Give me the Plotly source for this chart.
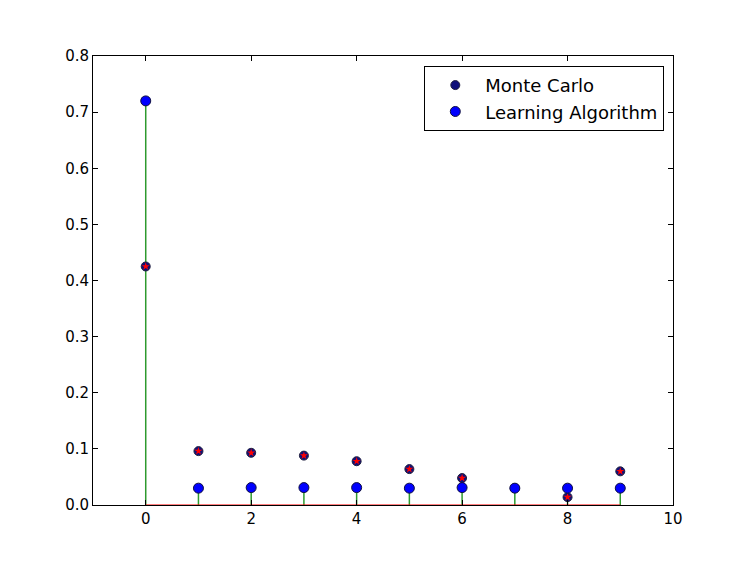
import plotly.graph_objects as go

positions = [0, 1, 2, 3, 4, 5, 6, 7, 8, 9]
monte_carlo = [0.425, 0.096, 0.093, 0.088, 0.078, 0.064, 0.048, 0.030, 0.014, 0.060]
learning_algo = [0.720, 0.030, 0.031, 0.031, 0.031, 0.030, 0.031, 0.030, 0.030, 0.030]


def stem_xy(xs, ys):
    sx, sy = [], []
    for x, y in zip(xs, ys):
        sx += [x, x, None]
        sy += [0, y, None]
    return sx, sy


fig = go.Figure()

# stems of the learning algorithm (green)
sx, sy = stem_xy(positions, learning_algo)
fig.add_trace(go.Scatter(x=sx, y=sy, mode="lines", line=dict(color="#2e9a2e", width=1.5),
                         showlegend=False, hoverinfo="skip"))

# baseline
fig.add_trace(go.Scatter(x=[positions[0], positions[-1]], y=[0, 0], mode="lines",
                         line=dict(color="red", width=1.2), showlegend=False, hoverinfo="skip"))

# Monte Carlo markers: navy circle with red star
fig.add_trace(go.Scatter(x=positions, y=monte_carlo, mode="markers", name="Monte Carlo",
                         marker=dict(symbol="circle", size=9, color="#10107a",
                                     line=dict(color="#202040", width=1))))
fig.add_trace(go.Scatter(x=positions, y=monte_carlo, mode="markers", showlegend=False,
                         marker=dict(symbol="star", size=6, color="red", line=dict(width=0))))

# Learning algorithm markers
fig.add_trace(go.Scatter(x=positions, y=learning_algo, mode="markers", name="Learning Algorithm",
                         marker=dict(symbol="circle", size=10, color="#0000ff",
                                     line=dict(color="#101040", width=1))))

axis_style = dict(showgrid=False, zeroline=False, showline=True, linecolor="black", linewidth=1,
                  mirror="ticks", ticks="inside", ticklen=5, tickcolor="black",
                  tickfont=dict(size=15, color="black"))

fig.update_layout(
    width=747, height=561,
    margin=dict(l=85, r=82, t=48, b=64),
    plot_bgcolor="white", paper_bgcolor="white",
    font=dict(family="DejaVu Sans", color="black"),
    xaxis=dict(range=[-1, 10], tickvals=[0, 2, 4, 6, 8, 10], **axis_style),
    yaxis=dict(range=[0, 0.8], tickvals=[0, 0.1, 0.2, 0.3, 0.4, 0.5, 0.6, 0.7, 0.8],
               tickformat=".1f", **axis_style),
    legend=dict(x=0.985, y=0.978, xanchor="right", yanchor="top", bgcolor="white",
                bordercolor="black", borderwidth=1, font=dict(size=18), itemwidth=50),
)

fig.write_html("out.html")
